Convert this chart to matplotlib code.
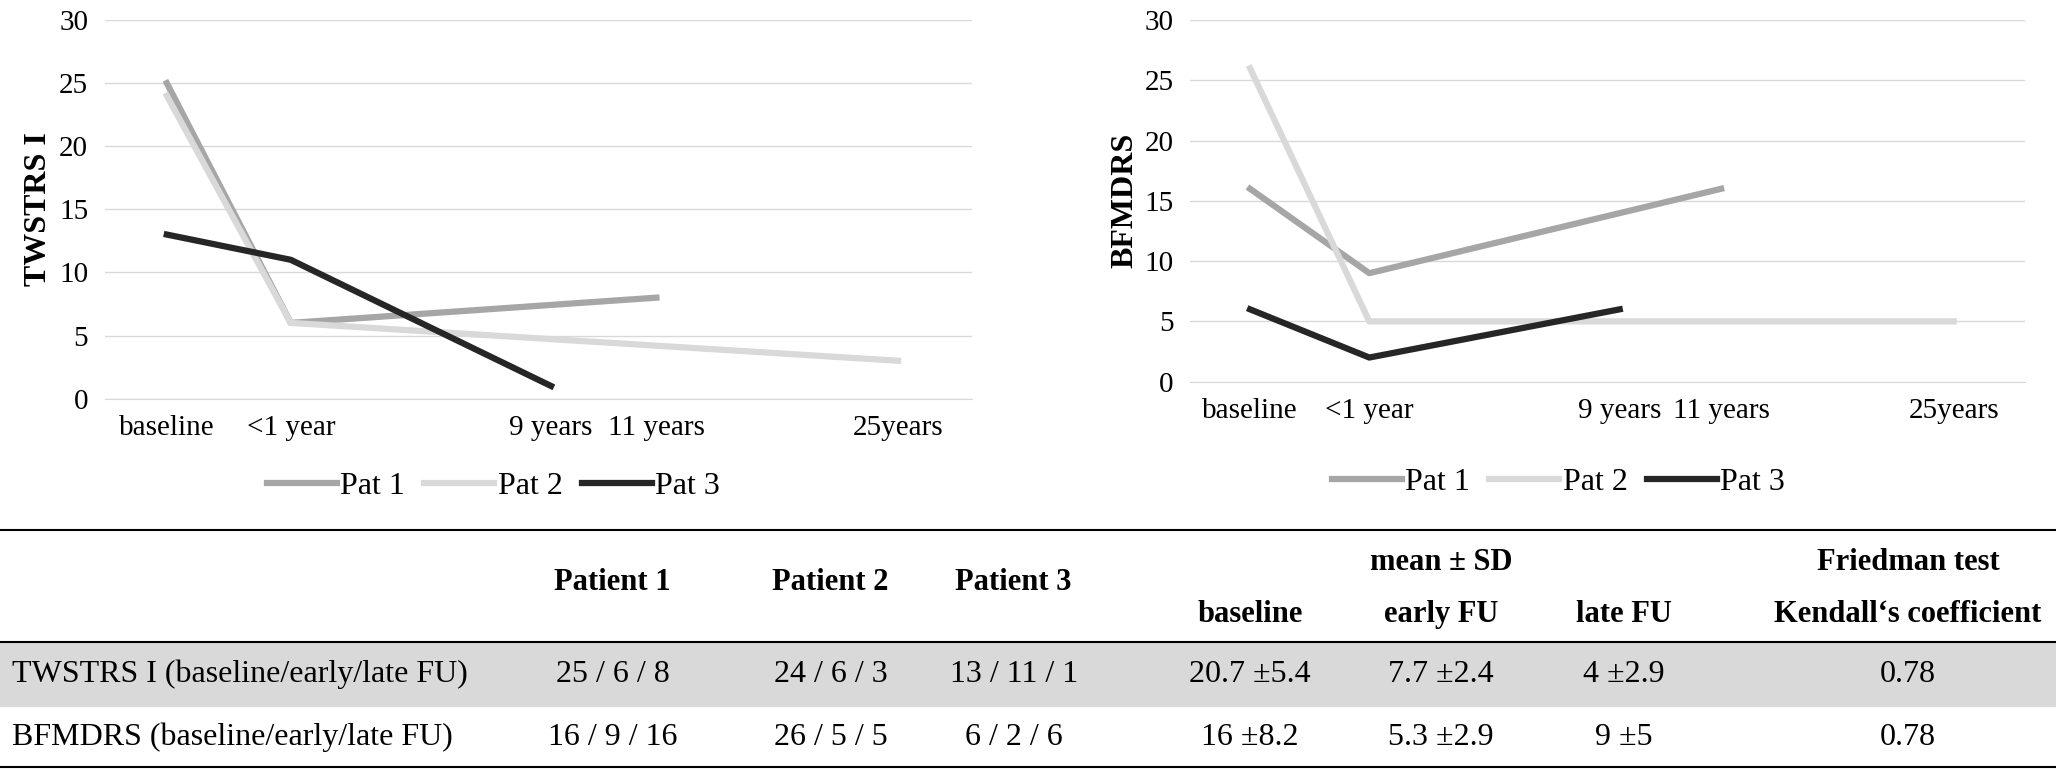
import matplotlib.pyplot as plt

plt.rcParams['font.family'] = ['Liberation Serif', 'DejaVu Serif']

x_labels = ['baseline', '<1 year', '9 years', '11 years', '25years']
x_pos = [0, 1, 3.1, 3.95, 5.9]

# (x index, value) per patient
tw_pat1 = ([0, 1, 3], [25, 6, 8])
tw_pat2 = ([0, 1, 4], [24, 6, 3])
tw_pat3 = ([0, 1, 2], [13, 11, 1])
bf_pat1 = ([0, 1, 3], [16, 9, 16])
bf_pat2 = ([0, 1, 4], [26, 5, 5])
bf_pat3 = ([0, 1, 2], [6, 2, 6])

col_headers = ['Patient 1', 'Patient 2', 'Patient 3', 'baseline', 'early FU', 'late FU', 'Kendall\u2018s coefficient']
row_names = ['TWSTRS I (baseline/early/late FU)', 'BFMDRS (baseline/early/late FU)']
row_values = [
    ['25 / 6 / 8', '24 / 6 / 3', '13 / 11 / 1', '20.7 \u00b15.4', '7.7 \u00b12.4', '4 \u00b12.9', '0.78'],
    ['16 / 9 / 16', '26 / 5 / 5', '6 / 2 / 6', '16 \u00b18.2', '5.3 \u00b12.9', '9 \u00b15', '0.78'],
]

colors = ['#a6a6a6', '#d9d9d9', '#262626']
names = ['Pat 1', 'Pat 2', 'Pat 3']

fig = plt.figure(figsize=(20.56, 7.71), dpi=100)


def draw_chart(rect, series, ylabel, legend_y, legend_x):
    ax = fig.add_axes(rect)
    for (idx, vals), c, n in zip(series, colors, names):
        ax.plot([x_pos[i] for i in idx], vals, color=c, lw=4.5, label=n)
    ax.set_xlim(-0.5, 6.5)
    ax.set_ylim(0, 30)
    ax.set_yticks(range(0, 31, 5))
    ax.set_xticks(x_pos)
    ax.set_xticklabels(x_labels)
    ax.tick_params(length=0, labelsize=21, pad=12)
    ax.grid(axis='y', color='#d9d9d9', lw=1)
    ax.set_axisbelow(True)
    for s in ['top', 'right', 'left']:
        ax.spines[s].set_visible(False)
    ax.spines['bottom'].set_color('#d9d9d9')
    ax.set_ylabel(ylabel, fontsize=23, fontweight='bold')
    ax.legend(loc='center', bbox_to_anchor=(legend_x, legend_y), bbox_transform=fig.transFigure,
              ncol=3, frameon=False, fontsize=23, handlelength=2.2, columnspacing=0.6, handletextpad=0.1)


draw_chart([0.051, 0.483, 0.422, 0.491], [tw_pat1, tw_pat2, tw_pat3], 'TWSTRS I', 0.369, 0.24)
draw_chart([0.579, 0.505, 0.406, 0.469], [bf_pat1, bf_pat2, bf_pat3], 'BFMDRS', 0.374, 0.758)

# table
col_x = [0.298, 0.404, 0.493, 0.608, 0.701, 0.790, 0.928]
fs = 22
line = dict(color='black', lw=1.5)
fig.add_artist(plt.Line2D([0, 1], [0.312, 0.312], **line))
fig.add_artist(plt.Rectangle((0, 0.084), 1, 0.083, color='#d9d9d9', zorder=0))
fig.add_artist(plt.Line2D([0, 1], [0.167, 0.167], **line))
fig.add_artist(plt.Line2D([0, 1], [0.005, 0.005], **line))
fig.text(col_x[4], 0.271, 'mean \u00b1 SD', ha='center', va='center', fontsize=fs, fontweight='bold')
fig.text(col_x[6], 0.271, 'Friedman test', ha='center', va='center', fontsize=fs, fontweight='bold')
for i, h in enumerate(col_headers):
    y = 0.244 if i < 3 else 0.203
    fig.text(col_x[i], y, h, ha='center', va='center', fontsize=fs, fontweight='bold')
for r, (name, vals) in enumerate(zip(row_names, row_values)):
    y = [0.125, 0.044][r]
    fig.text(0.006, y, name, ha='left', va='center', fontsize=fs + 1)
    for i, v in enumerate(vals):
        fig.text(col_x[i], y, v, ha='center', va='center', fontsize=fs + 1)

fig.savefig('out.png', dpi=100)
